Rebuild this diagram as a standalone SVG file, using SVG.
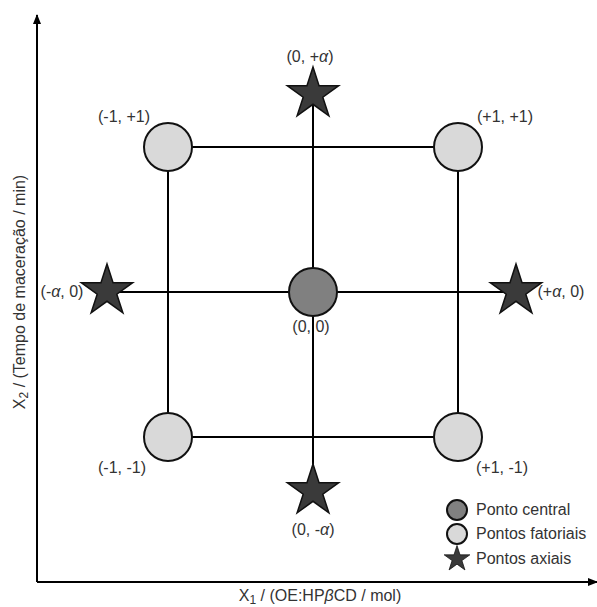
<svg xmlns="http://www.w3.org/2000/svg" width="597" height="607" viewBox="0 0 597 607">
<style>
  text { font-family: "Liberation Sans", Arial, sans-serif; font-size: 16px; fill: #333; }
  .ln { stroke: #000; stroke-width: 2; fill: none; }
  .fac { fill: #d9d9d9; stroke: #111; stroke-width: 2; }
  .cen { fill: #808080; stroke: #111; stroke-width: 2; }
  .star { fill: #3a3a3a; stroke: #111; stroke-width: 1.5; }
  .sub { font-size: 12px; }
</style>
<defs>
  <path id="star" d="M0,-27 L6.05,-8.33 L25.68,-8.34 L9.8,3.18 L15.87,21.84 L0,10.3 L-15.87,21.84 L-9.8,3.18 L-25.68,-8.34 L-6.05,-8.33 Z"/>
  <marker id="arr" markerWidth="10" markerHeight="8" refX="9" refY="4" orient="auto" markerUnits="userSpaceOnUse">
    <path d="M0,0 L10,4 L0,8 Z" fill="#000"/>
  </marker>
</defs>
<g id="axes">
  <line class="ln" x1="37" y1="582" x2="37" y2="15" marker-end="url(#arr)"/>
  <line class="ln" x1="37" y1="582" x2="597" y2="582" marker-end="url(#arr)"/>
  <text x="320" y="601" text-anchor="middle" font-size="16.5">X<tspan class="sub" dy="3">1</tspan><tspan dy="-3"> / (OE:HP</tspan><tspan font-style="italic">β</tspan>CD / mol)</text>
  <text transform="translate(25,292) rotate(-90)" text-anchor="middle">X<tspan class="sub" dy="3">2</tspan><tspan dy="-3"> / (Tempo de maceração / min)</tspan></text>
</g>
<g id="connectors">
  <rect class="ln" x="168" y="147" width="290" height="290"/>
  <line class="ln" x1="313" y1="94" x2="313" y2="491"/>
  <line class="ln" x1="107" y1="292" x2="516" y2="292"/>
</g>
<g id="p-m1-p1"><circle class="fac" cx="168" cy="147" r="24"/><text x="124" y="122" text-anchor="middle">(-1, +1)</text></g>
<g id="p-p1-p1"><circle class="fac" cx="458" cy="147" r="24"/><text x="505" y="122" text-anchor="middle">(+1, +1)</text></g>
<g id="p-m1-m1"><circle class="fac" cx="168" cy="437" r="24"/><text x="122" y="473" text-anchor="middle">(-1, -1)</text></g>
<g id="p-p1-m1"><circle class="fac" cx="458" cy="437" r="24"/><text x="502" y="473" text-anchor="middle">(+1, -1)</text></g>
<g id="p-center"><circle class="cen" cx="313" cy="292" r="24"/><text x="311" y="332" text-anchor="middle">(0, 0)</text></g>
<g id="p-top"><use href="#star" class="star" transform="translate(313,94)"/><text x="310" y="62" text-anchor="middle">(0, +<tspan font-style="italic">α</tspan>)</text></g>
<g id="p-bottom"><use href="#star" class="star" transform="translate(313,491)"/><text x="313" y="535" text-anchor="middle">(0, -<tspan font-style="italic">α</tspan>)</text></g>
<g id="p-left"><use href="#star" class="star" transform="translate(107,291)"/><text x="62" y="297" text-anchor="middle">(-<tspan font-style="italic">α</tspan>, 0)</text></g>
<g id="p-right"><use href="#star" class="star" transform="translate(516,291)"/><text x="561" y="297" text-anchor="middle">(+<tspan font-style="italic">α</tspan>, 0)</text></g>
<g id="legend">
  <circle class="cen" cx="457" cy="510" r="10" stroke-width="1.5"/>
  <text x="476" y="515">Ponto central</text>
  <circle class="fac" cx="457" cy="534" r="10" stroke-width="1.5"/>
  <text x="476" y="539">Pontos fatoriais</text>
  <use href="#star" class="star" transform="translate(457,559) scale(0.5)" stroke-width="2.5"/>
  <text x="476" y="564">Pontos axiais</text>
</g>
</svg>
